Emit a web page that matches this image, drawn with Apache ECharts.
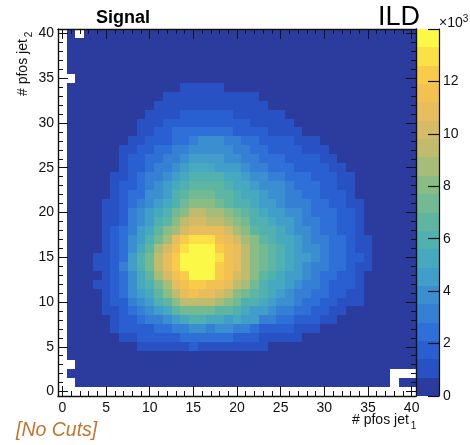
<!DOCTYPE html>
<html><head><meta charset="utf-8">
<style>html,body{margin:0;padding:0;background:#fff}#c{width:470px;height:445px}</style>
<script src="https://cdn.jsdelivr.net/npm/echarts@6/dist/echarts.min.js"></script>
</head><body><div id="c"></div>
<script>
const _ = null;
// colour-bin index read per cell, top row (jet2 = 40) to bottom row (jet2 = 0); columns jet1 = 0..40; _ = empty
const row40=[_,0,_,0,0,0,0,0,0,0,0,0,0,0,0,0,0,0,0,0,0,0,0,0,0,0,0,0,0,0,0,0,0,0,0,0,0,0,0,0,0];
const row39=[_,0,0,0,0,0,0,0,0,0,0,0,0,0,0,0,0,0,0,0,0,0,0,0,0,0,0,0,0,0,0,0,0,0,0,0,0,0,0,0,0];
const row38=[_,0,0,0,0,0,0,0,0,0,0,0,0,0,0,0,0,0,0,0,0,0,0,0,0,0,0,0,0,0,0,0,0,0,0,0,0,0,0,0,0];
const row37=[_,0,0,0,0,0,0,0,0,0,0,0,0,0,0,0,0,0,0,0,0,0,0,0,0,0,0,0,0,0,0,0,0,0,0,0,0,0,0,0,0];
const row36=[_,0,0,0,0,0,0,0,0,0,0,0,0,0,0,0,0,0,0,0,0,0,0,0,0,0,0,0,0,0,0,0,0,0,0,0,0,0,0,0,0];
const row35=[_,_,0,0,0,0,0,0,0,0,0,0,0,0,0,0,0,0,0,0,0,0,0,0,0,0,0,0,0,0,0,0,0,0,0,0,0,0,0,0,0];
const row34=[_,0,0,0,0,0,0,0,0,0,0,0,0,0,1,1,1,1,1,0,0,0,0,0,0,0,0,0,0,0,0,0,0,0,0,0,0,0,0,0,0];
const row33=[_,0,0,0,0,0,0,0,0,0,0,0,1,1,1,1,1,1,1,1,1,1,1,0,0,0,0,0,0,0,0,0,0,0,0,0,0,0,0,0,0];
const row32=[_,0,0,0,0,0,0,0,0,0,0,1,1,1,1,1,1,1,1,1,1,1,1,1,0,0,0,0,0,0,0,0,0,0,0,0,0,0,0,0,0];
const row31=[_,0,0,0,0,0,0,0,0,0,1,1,1,1,2,2,2,2,2,2,1,1,1,1,1,1,0,0,0,0,0,0,0,0,0,0,0,0,0,0,0];
const row30=[_,0,0,0,0,0,0,0,0,1,1,1,2,2,2,2,2,2,2,2,2,2,1,1,1,1,1,0,0,0,0,0,0,0,0,0,0,0,0,0,0];
const row29=[_,0,0,0,0,0,0,0,0,1,1,2,2,3,3,3,3,3,3,3,2,2,2,2,1,1,1,1,0,0,0,0,0,0,0,0,0,0,0,0,0];
const row28=[_,0,0,0,0,0,0,0,1,1,2,2,2,3,3,4,5,5,5,4,4,3,3,2,2,2,2,1,1,1,0,0,0,0,0,0,0,0,0,0,0];
const row27=[_,0,0,0,0,0,0,1,1,2,2,3,3,4,4,5,5,5,5,5,4,4,3,3,2,2,2,2,1,1,1,0,0,0,0,0,0,0,0,0,0];
const row26=[_,0,0,0,0,0,0,1,2,2,3,3,4,4,5,6,6,6,6,5,5,4,4,3,3,3,2,2,2,2,1,1,0,0,0,0,0,0,0,0,0];
const row25=[_,0,0,0,0,0,0,1,2,2,3,4,4,5,6,7,7,7,6,6,6,5,4,4,3,3,3,2,2,2,2,1,1,0,0,0,0,0,0,0,0];
const row24=[_,0,0,0,0,0,1,1,2,3,4,4,5,6,7,8,8,8,8,7,7,6,5,5,4,4,3,3,3,2,2,2,1,1,0,0,0,0,0,0,0];
const row23=[_,0,0,0,0,0,1,2,2,3,4,5,6,7,8,9,9,9,9,8,7,7,6,5,5,5,4,3,3,3,2,2,1,1,0,0,0,0,0,0,0];
const row22=[_,0,0,0,0,0,1,2,3,3,5,5,6,8,9,10,10,10,9,9,8,7,7,6,5,5,4,4,3,3,2,2,2,1,0,0,0,0,0,0,0];
const row21=[_,0,0,0,0,1,1,2,3,4,5,6,7,8,10,11,11,11,10,9,8,8,7,6,6,5,4,4,4,3,3,2,2,1,1,0,0,0,0,0,0];
const row20=[_,0,0,0,0,1,1,2,4,5,6,7,8,10,11,13,13,12,12,11,10,9,8,7,6,6,5,5,4,3,3,3,2,2,1,0,0,0,0,0,0];
const row19=[_,0,0,0,0,1,1,2,4,5,6,8,9,11,13,14,14,13,13,12,11,10,8,8,7,6,6,5,4,4,3,3,2,2,1,0,0,0,0,0,0];
const row18=[_,0,0,0,0,1,2,3,4,6,7,9,11,12,14,15,15,15,15,14,12,11,9,8,8,7,6,5,5,4,3,3,2,2,1,0,0,0,0,0,0];
const row17=[_,0,0,0,0,1,2,3,5,6,8,10,12,15,17,18,18,18,16,15,14,12,11,9,8,7,7,6,5,4,4,3,3,2,1,1,0,0,0,0,0];
const row16=[_,0,0,0,0,1,2,3,5,7,9,12,14,16,18,19,19,19,17,16,15,13,11,10,9,8,7,6,5,5,4,3,3,2,1,1,0,0,0,0,0];
const row15=[_,0,0,0,1,1,2,3,6,8,10,13,15,17,19,19,19,19,18,16,15,13,11,10,9,8,7,6,6,5,4,3,3,2,2,1,0,0,0,0,0];
const row14=[_,0,0,0,1,1,2,4,6,8,10,13,15,17,19,19,19,19,17,16,15,13,11,10,9,8,7,6,5,4,4,3,3,2,1,1,0,0,0,0,0];
const row13=[_,0,0,0,0,1,2,3,5,7,9,12,14,16,17,19,19,19,17,16,14,13,11,9,8,7,6,6,5,4,3,3,2,2,1,0,0,0,0,0,0];
const row12=[_,0,0,0,1,1,2,3,5,7,8,10,12,15,16,17,17,16,16,15,13,12,10,8,7,7,6,5,4,4,3,2,2,2,1,0,0,0,0,0,0];
const row11=[_,0,0,0,0,1,2,3,5,6,7,9,11,13,15,16,15,15,14,13,11,10,9,8,7,6,5,4,4,3,3,2,2,1,1,0,0,0,0,0,0];
const row10=[_,0,0,0,0,1,2,2,4,5,6,8,9,11,13,13,13,13,12,11,10,8,8,7,6,5,5,4,3,3,2,2,1,1,1,0,0,0,0,0,0];
const row9 =[_,0,0,0,0,1,1,2,3,4,5,6,7,9,10,10,10,10,9,9,8,7,6,6,5,4,4,3,3,2,2,1,1,0,0,0,0,0,0,0,0];
const row8 =[_,0,0,0,0,0,1,2,2,3,4,4,5,6,7,8,8,7,7,6,7,6,6,4,4,3,3,2,2,2,1,1,0,0,0,0,0,0,0,0,0];
const row7 =[_,0,0,0,0,0,1,2,2,2,2,3,3,4,4,5,5,4,5,5,4,4,3,2,2,2,2,1,1,1,0,0,0,0,0,0,0,0,0,0,0];
const row6 =[_,0,0,0,0,0,0,1,1,2,2,2,2,2,3,3,3,3,3,3,2,2,2,1,1,1,1,1,0,0,0,0,0,0,0,0,0,0,0,0,0];
const row5 =[_,0,0,0,0,0,0,0,0,1,1,1,1,1,1,2,1,1,1,1,1,1,1,1,0,0,0,0,0,0,0,0,0,0,0,0,0,0,0,0,0];
const row4 =[_,0,0,0,0,0,0,0,0,0,0,0,0,0,0,0,0,0,0,0,0,0,0,0,0,0,0,0,0,0,0,0,0,0,0,0,0,0,0,0,0];
const row3 =[_,_,0,0,0,0,0,0,0,0,0,0,0,0,0,0,0,0,0,0,0,0,0,0,0,0,0,0,0,0,0,0,0,0,0,0,0,0,0,0,0];
const row2 =[_,0,0,0,0,0,0,0,0,0,0,0,0,0,0,0,0,0,0,0,0,0,0,0,0,0,0,0,0,0,0,0,0,0,0,0,0,0,_,_,_];
const row1 =[_,_,0,0,0,0,0,0,0,0,0,0,0,0,0,0,0,0,0,0,0,0,0,0,0,0,0,0,0,0,0,0,0,0,0,0,0,0,_,0,0];
const row0 =[_,_,_,_,_,_,_,_,_,_,_,_,_,_,_,_,_,_,_,_,_,_,_,_,_,_,_,_,_,_,_,_,_,_,_,_,_,_,_,_,_];
const rows=[row40,row39,row38,row37,row36,row35,row34,row33,row32,row31,row30,row29,row28,row27,row26,row25,row24,row23,row22,row21,row20,row19,row18,row17,row16,row15,row14,row13,row12,row11,row10,row9,row8,row7,row6,row5,row4,row3,row2,row1,row0];

const binWidth=700;
const palette=['#2c3c9e','#2851c4','#2a5fd2','#2f6fd8','#3580d4','#3b8fd0','#419dca','#47a9c0','#50b1b0','#5eb6a2','#72ba94','#8abc86','#a5bd78','#bfbc6e','#d5bb66','#e7bd5e','#f3c052','#f9cb4a','#fbe048','#fbf848'];
const pfosLabels=Array.from({length:41},(_v,i)=>String(i));

const cells=[];
rows.forEach((r,k)=>r.forEach((lvl,i)=>{ if(lvl!==null) cells.push([i,40-k,(lvl+0.5)*binWidth]); }));
const barRanges=palette.map((c,k)=>[0,k*binWidth,(k+1)*binWidth,k]);

const INK='#111';
function catAxis(pos,major,isX){
  const every=major?(i=>i%5===0):(()=>true);
  const showLabel=major&&(pos==='bottom'||pos==='left');
  return {type:'category',gridIndex:0,position:pos,data:pfosLabels,z:6,
    axisLine:{show:major,onZero:false,lineStyle:{color:INK,width:1.4}},
    axisTick:{show:true,inside:true,alignWithLabel:true,interval:(i)=>every(i),length:major?10:5,lineStyle:{color:INK,width:1}},
    axisLabel:{show:showLabel,interval:(i)=>every(i),fontFamily:'Liberation Sans',fontSize:14,color:'#111',margin:isX?5:4,hideOverlap:false},
    splitLine:{show:false},splitArea:{show:false}};
}
const xAxes=[catAxis('bottom',true,true),catAxis('bottom',false,true),catAxis('top',true,true),catAxis('top',false,true),
  {type:'category',gridIndex:1,data:['z'],show:false}];
const yAxes=[catAxis('left',true,false),catAxis('left',false,false),catAxis('right',true,false),catAxis('right',false,false),
  {type:'value',gridIndex:1,position:'right',min:0,max:14000,interval:2000,z:6,
   axisLine:{show:true,lineStyle:{color:INK,width:1.2}},
   axisTick:{show:true,inside:true,length:11,lineStyle:{color:INK,width:1.2}},
   axisLabel:{show:true,fontFamily:'Liberation Sans',fontSize:14,color:'#111',margin:4,
     formatter:v=>v>=14000?'':String(v/1000)},
   splitLine:{show:false}}];

function cellItem(params,api){
  const c=api.coord([api.value(0),api.value(1)]);
  const s=api.size([1,1]);
  const x0=Math.round(c[0]-s[0]/2),x1=Math.round(c[0]+s[0]/2);
  const y0=Math.round(c[1]-s[1]/2),y1=Math.round(c[1]+s[1]/2);
  return {type:'rect',shape:{x:x0,y:y0,width:x1-x0,height:y1-y0},style:{fill:api.visual('color')}};
}
function barItem(params,api){
  const lo=api.coord([0,api.value(1)]),hi=api.coord([0,api.value(2)]);
  const w=api.size([1,0])[0];
  const x0=Math.round(lo[0]-w/2),x1=Math.round(lo[0]+w/2);
  const y0=Math.round(hi[1]),y1=Math.round(lo[1]);
  return {type:'rect',shape:{x:x0,y:y0,width:x1-x0,height:y1-y0},style:{fill:palette[api.value(3)]}};
}

const chart=echarts.init(document.getElementById('c'),null,{renderer:'canvas'});
chart.setOption({
  animation:false,backgroundColor:'#fff',
  grid:[{left:58,top:29,width:358,height:367,containLabel:false},{left:417,top:29,width:22,height:367,containLabel:false}],
  xAxis:xAxes,yAxis:yAxes,
  visualMap:{show:false,type:'piecewise',seriesIndex:0,dimension:2,
    pieces:palette.map((c,k)=>({min:k*binWidth,max:(k+1)*binWidth,color:c}))},
  series:[
    {type:'custom',xAxisIndex:0,yAxisIndex:0,data:cells,silent:true,progressive:0,clip:false,z:2,renderItem:cellItem,encode:{x:0,y:1}},
    {type:'custom',xAxisIndex:4,yAxisIndex:4,data:barRanges,silent:true,progressive:0,clip:false,z:2,renderItem:barItem,encode:{x:0,y:[1,2]}}
  ],
  graphic:[
    {type:'text',left:96,top:9,style:{text:'Signal',font:'bold 18px "Liberation Sans"',fill:'#000'}},
    {type:'text',left:378,top:4,style:{text:'ILD',font:'27px "Liberation Sans"',fill:'#000'}},
    {type:'text',left:16,top:421,style:{text:'[No Cuts]',font:'italic 19.5px "Liberation Sans"',fill:'#c0752f'}},
    {type:'text',x:352,y:409,style:{text:'# pfos jet{s|1}',font:'14px "Liberation Sans"',fill:'#111',
       rich:{s:{font:'10px "Liberation Sans"',fill:'#111',padding:[12,0,0,2]}}}},
    {type:'text',x:12,y:96,rotation:Math.PI/2,style:{text:'# pfos jet{s|2}',font:'14px "Liberation Sans"',fill:'#111',
       rich:{s:{font:'10px "Liberation Sans"',fill:'#111',padding:[12,0,0,2]}}}},
    {type:'text',x:439,y:14,style:{text:'×10{s|3}',font:'14px "Liberation Sans"',fill:'#111',
       rich:{s:{font:'10px "Liberation Sans"',fill:'#111',padding:[0,0,8,0]}}}}
  ]
});
</script></body></html>
